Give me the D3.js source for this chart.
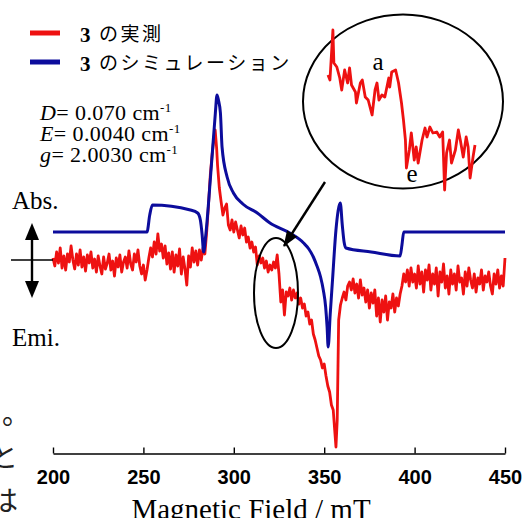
<!DOCTYPE html>
<html>
<head>
<meta charset="utf-8">
<script src="https://cdn.jsdelivr.net/npm/d3@7"></script>
<style>
  html, body { margin: 0; padding: 0; background: #fff; overflow: hidden; }
  svg { display: block; }
  .serif { font-family: "Liberation Serif", "DejaVu Serif", serif; }
  .jp { font-family: "Noto Sans CJK JP", sans-serif; }
  .tick text { font-family: "Liberation Sans", Arial, sans-serif; font-weight: bold; font-size: 20px; fill: #000; }
</style>
</head>
<body>
<svg id="chart" width="526" height="518"></svg>
<script>
/* EPR spectrum: measured vs simulated */

const fieldTicks = [200, 250, 300, 350, 400, 450];

// simulated trace [field mT, intensity a.u.]
const simulation = [
  [200, 28], [252, 28], [253.5, 45], [255, 55], [276, 50], [280, 47], [281.5, 40], [282.5, 25],
  [283.3, 8], [284.5, 25], [287, 80], [289.8, 147], [290.7, 165], [291.5, 160], [292.6, 147],
  [293.5, 113], [296.3, 83], [299.8, 67], [305, 56], [313, 47], [320, 37], [331, 27], [338.6, 17],
  [341.5, 11], [344, 3], [346, -6], [348, -17], [349.5, -30], [350.8, -47], [351.6, -67], [352.2, -87],
  [353.3, -55], [354.6, -20], [356.5, 30], [358.9, 57], [360, 35], [361, 18], [362, 12], [376, 8],
  [392, 4], [393, 15], [394, 28], [450, 28]
];

// measured trace [field mT, intensity a.u.]
const measured = [
  [200, 2], [201, -6], [202, 8], [203, -3], [204, 12], [205, -8], [206, 4], [207, -10], [208, 6], [209, -2],
  [210, 14], [211, 0], [212, -9], [213, 6], [214, -5], [215, 10], [216, -7], [217, 3], [218, -11], [219, 5],
  [220, -3], [221, 8], [222, -8], [223, 1], [224, -12], [225, 4], [226, -6], [227, -14], [228, 3], [229, -9],
  [230, -3], [231, 6], [232, -10], [233, -1], [234, -16], [235, 2], [236, -7], [237, 5], [238, -12], [239, -2],
  [240, 3], [241, -8], [242, 9], [243, -4], [244, -10], [245, 6], [246, -2], [247, 10], [248, -6], [249, -14],
  [250, -5], [251, -20], [252, -10], [253, 2], [254, 12], [255, 3], [256, 18], [257, 6], [258, 26], [259, 9],
  [260, 16], [261, 2], [262, 14], [263, -4], [264, 7], [265, -9], [266, 8], [267, -12], [268, 5], [269, -6],
  [270, 11], [271, -14], [272, 3], [273, -9], [274, -25], [275, 4], [276, -7], [277, 12], [278, -2], [279, 9],
  [280, -5], [281, 10], [282, 0], [283, 12], [284, 6], [285, 28], [286, 55], [287, 85], [288, 105], [289, 122],
  [289.7, 130], [290.5, 112], [291, 95], [292, 72], [293, 58], [294, 45], [295, 52], [296, 56], [297, 35], [298, 30],
  [299, 40], [300, 28], [301, 38], [302, 30], [303, 22], [304, 34], [305, 25], [306, 32], [307, 18], [308, 23],
  [309, 12], [310, 18], [311, 8], [312, 13], [313, -5], [314, 4], [315, -3], [316, 2], [317, -8], [318, -1],
  [319, -12], [320, -5], [321, -10], [322, -2], [323, -8], [324, 5], [325, -14], [326, -42], [327, -30], [328, -55],
  [329, -32], [330, -36], [331, -28], [332, -40], [333, -30], [334, -38], [335, -33], [336, -44], [337, -38], [338, -48],
  [339, -44], [340, -56], [341, -52], [342, -64], [343, -60], [344, -74], [345, -80], [346, -88], [347, -96], [348, -100],
  [349, -108], [350, -104], [351, -116], [352, -126], [353, -132], [354, -145], [355, -150], [355.8, -170], [356.5, -187], [357.2, -160],
  [358, -60], [359, -45], [360, -38], [361, -32], [362, -40], [363, -26], [364, -22], [365, -30], [366, -19], [367, -33],
  [368, -24], [369, -38], [370, -20], [371, -35], [372, -28], [373, -42], [374, -30], [375, -48], [376, -33], [377, -43],
  [378, -30], [379, -56], [380, -38], [381, -62], [382, -40], [383, -52], [384, -36], [385, -60], [386, -42], [387, -48],
  [388, -34], [389, -52], [390, -38], [391, -46], [392, -34], [393, -26], [394, -14], [395, -22], [396, -10], [397, -26],
  [398, -8], [399, -22], [400, -14], [401, -28], [402, -6], [403, -24], [404, -12], [405, -32], [406, -10], [407, -20],
  [408, -5], [409, -30], [410, -14], [411, -24], [412, -8], [413, -36], [414, -12], [415, -22], [416, -4], [417, -28],
  [418, -16], [419, -34], [420, -10], [421, -24], [422, -14], [423, -30], [424, -6], [425, -22], [426, -18], [427, -34],
  [428, -12], [429, -26], [430, -8], [431, -20], [432, -28], [433, -14], [434, -32], [435, -18], [436, -24], [437, -10],
  [438, -30], [439, -16], [440, -22], [441, -12], [442, -26], [443, -34], [444, -14], [445, -24], [446, -10], [447, -28],
  [448, -16], [449, -26], [450, 2]
];

// magnified piece of the measured trace shown in the round inset
const insetTrace = [
  [318.0, 25], [318.2, 20], [318.5, 70], [318.6, 37], [318.9, 33], [319.2, 22], [319.4, 10], [319.7, 30],
  [320.0, 17], [320.2, 32], [320.4, 15], [320.8, 8], [320.9, -3], [321.3, 17], [321.5, 20], [321.8, 3],
  [322.1, 0], [322.5, -15], [322.8, 10], [323.0, 17], [323.2, 0], [323.5, 5], [323.8, 3], [324.2, 22],
  [324.3, 13], [324.5, 28], [324.9, 30], [325.2, 17], [325.5, -3], [325.7, -20], [325.9, -40], [326.0, -68],
  [326.3, -50], [326.5, -33], [326.8, -60], [327.0, -47], [327.2, -63], [327.6, -40], [327.9, -28], [328.1, -37],
  [328.4, -27], [328.7, -33], [329.1, -32], [329.4, -37], [329.7, -32], [329.9, -90], [330.1, -53], [330.4, -40],
  [330.6, -63], [331.0, -50], [331.3, -30], [331.5, -40], [331.8, -57], [332.1, -37], [332.3, -47], [332.5, -78],
  [332.8, -57], [333.0, -45]
];

const legendItems = [
  { label: 'の実測', color: '#ee1111' },
  { label: 'のシミュレーション', color: '#0c0c9c' }
];

const params = [
  { sym: 'D', val: '0.070' },
  { sym: 'E', val: '0.0040' },
  { sym: 'g', val: '2.0030' }
];

const sideText = ['。', 'と', 'は'];

const svg = d3.select('#chart');

const x = d3.scaleLinear().domain([200, 450]).range([53, 505]);
const y = d3.scaleLinear().domain([-200, 200]).range([460, 60]);
const ix = d3.scaleLinear().domain([318, 333]).range([328, 475]);
const iy = d3.scaleLinear().domain([-100, 100]).range([200, 0]);

// ─── axis ───
const axis = d3.axisBottom(x)
  .tickValues(fieldTicks)
  .tickFormat(d3.format('d'))
  .tickSizeInner(-6)
  .tickSizeOuter(0)
  .tickPadding(16);

const axG = svg.append('g').attr('transform', 'translate(0,453.5)').call(axis);
axG.select('.domain').attr('stroke', '#000').attr('stroke-width', 1.4);
axG.selectAll('.tick line').attr('stroke', '#000').attr('stroke-width', 1.4);

svg.append('text').attr('class', 'serif')
  .attr('x', 251).attr('y', 519)
  .attr('text-anchor', 'middle')
  .attr('font-size', 29)
  .text('Magnetic Field / mT');

// ─── traces ───
const line = d3.line().x(d => x(d[0])).y(d => y(d[1]));
const smooth = d3.line().x(d => x(d[0])).y(d => y(d[1])).curve(d3.curveMonotoneX);

svg.append('path').datum(measured)
  .attr('d', line)
  .attr('fill', 'none').attr('stroke', legendItems[0].color)
  .attr('stroke-width', 2.8).attr('stroke-linejoin', 'round');

svg.append('path').datum(simulation)
  .attr('d', smooth)
  .attr('fill', 'none').attr('stroke', legendItems[1].color)
  .attr('stroke-width', 3).attr('stroke-linejoin', 'round');

// ─── annotations: ellipses, arrow, inset ───
svg.append('ellipse')
  .attr('cx', 276).attr('cy', 293).attr('rx', 22).attr('ry', 55)
  .attr('fill', 'none').attr('stroke', '#000').attr('stroke-width', 2);

svg.append('ellipse')
  .attr('cx', 403).attr('cy', 101.5).attr('rx', 100).attr('ry', 87)
  .attr('fill', 'none').attr('stroke', '#000').attr('stroke-width', 2);

const inLine = d3.line().x(d => ix(d[0])).y(d => iy(d[1]));
svg.append('path').datum(insetTrace)
  .attr('d', inLine)
  .attr('fill', 'none').attr('stroke', legendItems[0].color)
  .attr('stroke-width', 2.8).attr('stroke-linejoin', 'round');

svg.append('text').attr('class', 'serif').attr('x', 378).attr('y', 70)
  .attr('text-anchor', 'middle').attr('font-size', 25).text('a');
svg.append('text').attr('class', 'serif').attr('x', 412).attr('y', 182)
  .attr('text-anchor', 'middle').attr('font-size', 25).text('e');

const defs = svg.append('defs');
defs.append('marker')
  .attr('id', 'head')
  .attr('viewBox', '0 -6 16 12')
  .attr('refX', 15).attr('refY', 0)
  .attr('markerWidth', 16).attr('markerHeight', 12)
  .attr('markerUnits', 'userSpaceOnUse')
  .attr('orient', 'auto')
  .append('path').attr('d', 'M0,-6L16,0L0,6Z').attr('fill', '#000');

svg.append('line')
  .attr('x1', 325).attr('y1', 182).attr('x2', 284).attr('y2', 246)
  .attr('stroke', '#000').attr('stroke-width', 2.4)
  .attr('marker-end', 'url(#head)');

// ─── Abs./Emi. indicator ───
svg.append('line').attr('x1', 11).attr('x2', 53).attr('y1', 260).attr('y2', 260)
  .attr('stroke', '#000').attr('stroke-width', 1.4);
svg.append('line').attr('x1', 32).attr('x2', 32).attr('y1', 232).attr('y2', 290)
  .attr('stroke', '#000').attr('stroke-width', 2.4);
svg.append('path').attr('d', 'M32,223L39,240L25,240Z').attr('fill', '#000');
svg.append('path').attr('d', 'M32,298L39,281L25,281Z').attr('fill', '#000');

svg.append('text').attr('class', 'serif').attr('x', 12).attr('y', 209)
  .attr('font-size', 25).text('Abs.');
svg.append('text').attr('class', 'serif').attr('x', 12).attr('y', 346)
  .attr('font-size', 25).text('Emi.');

// ─── legend ───
legendItems.forEach((it, i) => {
  const cy = 33 + i * 29;
  svg.append('line').attr('x1', 30).attr('x2', 60).attr('y1', cy).attr('y2', cy)
    .attr('stroke', it.color).attr('stroke-width', 5);
  svg.append('text').attr('class', 'serif').attr('x', 80).attr('y', cy + 9)
    .attr('font-size', 21).attr('font-weight', 'bold').text('3');
  svg.append('text').attr('class', 'jp').attr('x', 99).attr('y', cy + 8)
    .attr('font-size', 19).attr('letter-spacing', 2.5).text(it.label);
});

// ─── fit parameters ───
params.forEach((p, i) => {
  const t = svg.append('text').attr('class', 'serif')
    .attr('x', 40).attr('y', 120 + i * 20.8).attr('font-size', 22)
    .attr('letter-spacing', 0.4);
  t.append('tspan').attr('font-style', 'italic').text(p.sym);
  t.append('tspan').text('= ' + p.val + ' cm');
  t.append('tspan').attr('font-size', 13).attr('dy', -8).text('-1');
});

// ─── clipped body text at the left page edge ───
const sideX = [2, -10, -10];
const sideY = [424, 467, 511];
sideText.forEach((s, i) => {
  svg.append('text').attr('class', 'jp')
    .attr('x', sideX[i]).attr('y', sideY[i])
    .attr('font-size', 28).attr('fill', '#222').text(s);
});
</script>
</body>
</html>
